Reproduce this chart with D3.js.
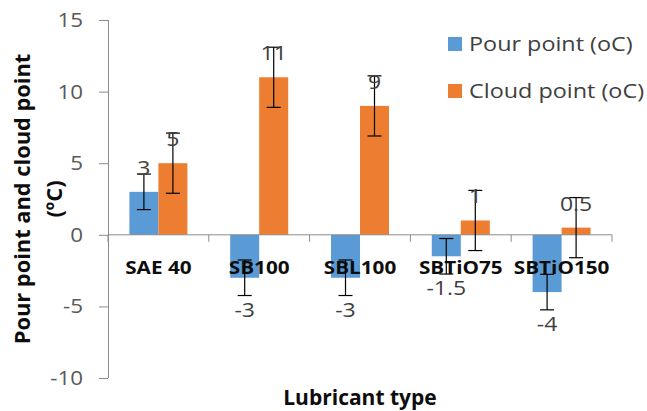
<!DOCTYPE html>
<html>
<head>
<meta charset="utf-8">
<script src="https://cdn.jsdelivr.net/npm/d3@7"></script>
<style>
  html, body { margin: 0; padding: 0; background: #fff; }
  svg { display: block; font-family: "Open Sans", Lato, sans-serif; }
</style>
</head>
<body>
<svg id="chart" width="647" height="411"></svg>
<script>
// ---- data ----
const categories = ["SAE 40", "SB100", "SBL100", "SBTiO75", "SBTiO150"];
const seriesNames = ["Pour point (oC)", "Cloud point (oC)"];
const pourPoint = [3, -3, -3, -1.5, -4];
const cloudPoint = [5, 11, 9, 1, 0.5];
const pourError = [1.24, 1.24, 1.24, 1.24, 1.24];
const cloudError = [2.1, 2.1, 2.1, 2.1, 2.1];
const yTicks = [-10, -5, 0, 5, 10, 15];
const seriesColors = ["#5B9BD5", "#ED7D31"];

const svg = d3.select("#chart");

const plot = { left: 108, right: 612, top: 20, bottom: 378 };

const y = d3.scaleLinear().domain([-10, 15]).range([plot.bottom, plot.top]);
const x0 = d3.scaleBand().domain(categories).range([plot.left, plot.right]).padding(0);
const x1 = d3.scaleBand().domain(seriesNames).range([0, x0.bandwidth()])
  .paddingInner(0).paddingOuter(0.738);

const series = [
  { name: seriesNames[0], values: pourPoint, errors: pourError, color: seriesColors[0] },
  { name: seriesNames[1], values: cloudPoint, errors: cloudError, color: seriesColors[1] }
];

// horizontal stretch of text around its anchor point
function stretch(sel, sx) {
  sel.each(function () {
    const t = d3.select(this);
    const x = +t.attr("x") || 0;
    const yy = +t.attr("y") || 0;
    t.attr("transform", `translate(${x},${yy}) scale(${sx},1) translate(${-x},${-yy})`);
  });
}

// ---- bars ----
series.forEach(s => {
  const g = svg.append("g");
  g.selectAll("rect").data(categories).join("rect")
    .attr("x", (c) => x0(c) + x1(s.name))
    .attr("width", x1.bandwidth())
    .attr("y", (c, i) => Math.min(y(s.values[i]), y(0)))
    .attr("height", (c, i) => Math.abs(y(s.values[i]) - y(0)))
    .attr("fill", s.color);
});

// ---- axes ----
const axisColor = "#8c8c8c";
const yAxis = svg.append("g").attr("transform", `translate(${plot.left},0)`)
  .call(d3.axisLeft(y).tickValues(yTicks).tickSize(9).tickPadding(16).tickFormat(d => String(d)));
yAxis.select(".domain").attr("stroke", axisColor).attr("stroke-width", 1).attr("d", `M0.5,${plot.top}V${plot.bottom}`);
yAxis.selectAll(".tick line").attr("stroke", axisColor);
yAxis.selectAll(".tick text").attr("fill", "#595959")
  .style("font-size", "20px").style("font-family", "'Open Sans'");
stretch(yAxis.selectAll(".tick text"), 1.12);

const xAxisG = svg.append("g").attr("transform", `translate(0,${y(0)})`);
xAxisG.append("line").attr("x1", plot.left).attr("x2", plot.right).attr("y1", 0).attr("y2", 0)
  .attr("stroke", axisColor).attr("stroke-width", 1);
const boundaries = categories.map(c => x0(c)).concat([x0(categories[categories.length - 1]) + x0.bandwidth()]);
xAxisG.selectAll("line.tk").data(boundaries).join("line").attr("class", "tk")
  .attr("x1", d => d).attr("x2", d => d).attr("y1", 0).attr("y2", 7)
  .attr("stroke", axisColor).attr("stroke-width", 1);
const catText = xAxisG.selectAll("text.cat").data(categories).join("text").attr("class", "cat")
  .attr("x", d => x0(d) + x0.bandwidth() / 2)
  .attr("y", 39)
  .attr("text-anchor", "middle")
  .style("font-size", "18.5px").style("font-weight", "bold").attr("fill", "#0d0d0d")
  .text(d => d);
stretch(catText, 1.12);

// ---- error bars ----
series.forEach(s => {
  const g = svg.append("g").attr("stroke", "#000").attr("stroke-width", 1.2);
  categories.forEach((c, i) => {
    const cx = x0(c) + x1(s.name) + x1.bandwidth() / 2;
    const lo = y(s.values[i] - s.errors[i]);
    const hi = y(s.values[i] + s.errors[i]);
    g.append("line").attr("x1", cx).attr("x2", cx).attr("y1", lo).attr("y2", hi);
    g.append("line").attr("x1", cx - 7).attr("x2", cx + 7).attr("y1", lo).attr("y2", lo);
    g.append("line").attr("x1", cx - 7).attr("x2", cx + 7).attr("y1", hi).attr("y2", hi);
  });
});

// ---- data labels ----
series.forEach(s => {
  const lbl = svg.append("g").selectAll("text").data(categories).join("text")
    .attr("x", (c) => x0(c) + x1(s.name) + x1.bandwidth() / 2)
    .attr("y", (c, i) => s.values[i] >= 0 ? y(s.values[i]) - 17 : y(s.values[i]) + 39)
    .attr("text-anchor", "middle")
    .style("font-size", "20px").attr("fill", "#404040")
    .text((c, i) => String(s.values[i]));
  stretch(lbl, 1.15);
});

// ---- axis titles ----
const yTitle = svg.append("text")
  .attr("transform", `translate(30,199) rotate(-90) scale(1.04,1)`)
  .attr("text-anchor", "middle")
  .style("font-size", "21px").style("font-weight", "bold").attr("fill", "#0d0d0d");
yTitle.append("tspan").attr("x", 0).attr("y", 0).text("Pour point and cloud point");
yTitle.append("tspan").attr("x", 0).attr("y", 32).text("(ºC)");

svg.append("text")
  .attr("x", 360).attr("y", 405)
  .attr("text-anchor", "middle")
  .style("font-size", "21px").style("font-weight", "bold").attr("fill", "#0d0d0d")
  .text("Lubricant type");

// ---- legend ----
const legend = svg.append("g");
series.forEach((s, i) => {
  const ly = 37 + i * 47;
  legend.append("rect").attr("x", 448).attr("y", ly).attr("width", 14).attr("height", 14).attr("fill", s.color);
  const t = legend.append("text").attr("x", 469).attr("y", ly + 14)
    .style("font-size", "20px").attr("fill", "#404040").text(s.name);
  stretch(t, 1.17);
});
</script>
</body>
</html>
